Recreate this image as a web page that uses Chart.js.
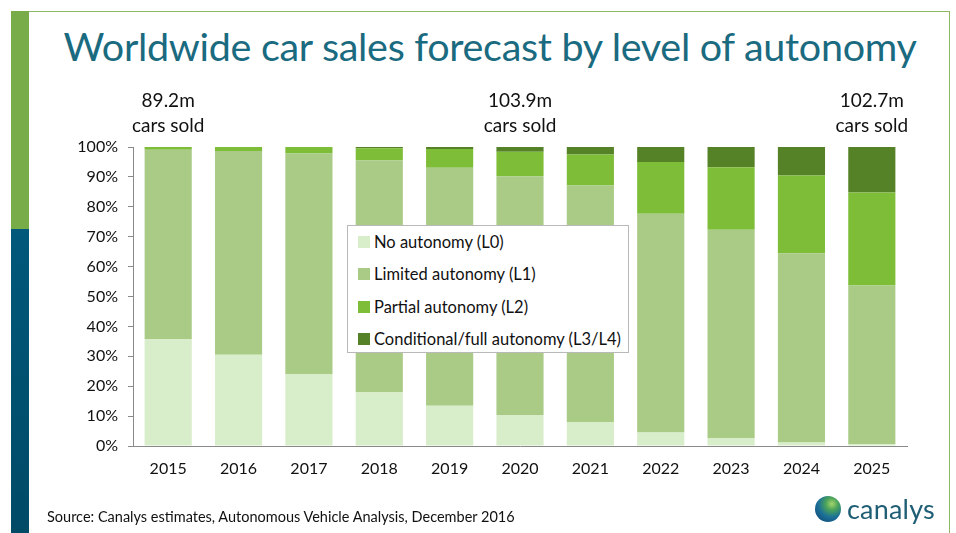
<!DOCTYPE html>
<html>
<head>
<meta charset="utf-8">
<script src="https://cdn.jsdelivr.net/npm/chart.js@4.4.1/dist/chart.umd.min.js"></script>
<style>
  html, body { margin: 0; padding: 0; background: #fff; }
  body { width: 956px; height: 533px; position: relative; overflow: hidden; font-family: Lato, "Open Sans", sans-serif; }
  #frameTop { position: absolute; left: 11px; top: 11px; width: 939px; height: 1px; background: #8fb866; }
  #frameRight { position: absolute; left: 949px; top: 11px; width: 1px; height: 522px; background: #8fb866; }
  #stripeGreen { position: absolute; left: 11px; top: 11px; width: 18px; height: 218px; background: #77ac48; }
  #stripeBlue { position: absolute; left: 11px; top: 229px; width: 18px; height: 304px; background: linear-gradient(#00587a, #004a66); }
  #title { position: absolute; left: 30px; width: 920px; top: 22px; text-align: center; color: #1a6a80; font-size: 39.5px; letter-spacing: -0.3px; white-space: nowrap; }
  #chartWrap { position: absolute; left: 0; top: 0; width: 956px; height: 533px; }
  #legend { position: absolute; left: 347px; top: 225px; width: 282px; height: 128px; background: #fff; border: 1px solid #b9b9b9; box-sizing: border-box; padding: 0 0 0 10px; }
  .li { height: 32.3px; display: flex; align-items: center; font-size: 16.5px; color: #111; white-space: nowrap; }
  .li:first-child { margin-top: 0px; }
  .sw { width: 12px; height: 12px; margin-right: 4px; flex: none; }
  #source { position: absolute; left: 47px; top: 508px; font-size: 14.5px; color: #111; white-space: nowrap; }
  #logo { position: absolute; left: 815px; top: 492px; display: flex; align-items: center; }
  #globe { width: 26px; height: 26px; border-radius: 50%; background: radial-gradient(circle at 65% 30%, #a6d46a 0%, #4aa35a 25%, #1b6f98 55%, #0b3f6a 100%); margin-right: 6px; }
  #logoText { font-size: 27px; color: #1f5e74; letter-spacing: 0.2px; }
</style>
</head>
<body>
<div id="frameTop"></div>
<div id="frameRight"></div>
<div id="stripeGreen"></div>
<div id="stripeBlue"></div>
<div id="title">Worldwide car sales forecast by level of autonomy</div>
<div id="chartWrap"><canvas id="c" width="956" height="533"></canvas></div>
<div id="legend"></div>
<div id="source">Source: Canalys estimates, Autonomous Vehicle Analysis, December 2016</div>
<div id="logo"><div id="globe"></div><div id="logoText">canalys</div></div>
<script>
const years = ["2015","2016","2017","2018","2019","2020","2021","2022","2023","2024","2025"];
const noAutonomyL0      = [35.7, 30.5, 24.1, 18.0, 13.5, 10.4, 8.0, 4.5, 2.7, 1.2, 0.7];
const limitedL1         = [63.4, 68.2, 73.7, 77.6, 79.6, 79.8, 79.1, 73.2, 69.6, 63.3, 53.0];
const partialL2         = [0.9, 1.3, 2.2, 4.0, 6.2, 8.2, 10.4, 17.3, 20.9, 26.0, 31.1];
const conditionalL3L4   = [0.0, 0.0, 0.0, 0.4, 0.7, 1.6, 2.5, 5.0, 6.8, 9.5, 15.2];
const seriesLabels = ["No autonomy (L0)", "Limited autonomy (L1)", "Partial autonomy (L2)", "Conditional/full autonomy (L3/L4)"];
const seriesColors = ["#d8edc9", "#a9cb86", "#7ebd38", "#558227"];
const yTicks = [0,10,20,30,40,50,60,70,80,90,100];
const salesNotes = [
  { year: "2015", lines: ["89.2m", "cars sold"] },
  { year: "2020", lines: ["103.9m", "cars sold"] },
  { year: "2025", lines: ["102.7m", "cars sold"] }
];

const FONT = 'Lato, "Open Sans", sans-serif';

const notesPlugin = {
  id: 'salesNotes',
  afterDraw(chart) {
    const ctx = chart.ctx;
    const xs = chart.scales.x;
    ctx.save();
    ctx.fillStyle = '#111';
    ctx.font = '19px ' + FONT;
    ctx.textAlign = 'center';
    ctx.textBaseline = 'middle';
    salesNotes.forEach(n => {
      const x = xs.getPixelForValue(years.indexOf(n.year));
      ctx.fillText(n.lines[0], x, 101);
      ctx.fillText(n.lines[1], x, 126);
    });
    ctx.restore();
  }
};

const chart = new Chart(document.getElementById('c'), {
  type: 'bar',
  data: {
    labels: years,
    datasets: [noAutonomyL0, limitedL1, partialL2, conditionalL3L4].map((d, i) => ({
      label: seriesLabels[i],
      data: d,
      backgroundColor: seriesColors[i],
      borderWidth: 0,
      barPercentage: 0.67,
      categoryPercentage: 1.0
    }))
  },
  options: {
    responsive: false,
    animation: false,
    devicePixelRatio: 1,
    layout: { padding: { left: 60, right: 49, top: 147, bottom: 52 } },
    plugins: { legend: { display: false }, tooltip: { enabled: false } },
    scales: {
      x: {
        stacked: true,
        grid: { display: true, drawOnChartArea: false, drawTicks: false },
        border: { color: '#8a8a8a', width: 1 },
        ticks: { color: '#111', font: { family: FONT, size: 16 }, padding: 13, maxRotation: 0 },
        afterFit(s) { s.height = 35; }
      },
      y: {
        stacked: true,
        min: 0, max: 100,
        afterBuildTicks(s) { s.ticks = yTicks.map(v => ({ value: v })); },
        grid: { display: true, drawOnChartArea: false, drawTicks: true, tickLength: 5, color: '#8a8a8a' },
        border: { color: '#8a8a8a', width: 1 },
        ticks: { color: '#111', font: { family: FONT, size: 16 }, padding: 10, callback: v => v + '%' },
        afterFit(s) { s.width = 73; }
      }
    }
  },
  plugins: [notesPlugin]
});

const legend = document.getElementById('legend');
chart.data.datasets.forEach(ds => {
  const row = document.createElement('div');
  row.className = 'li';
  const sw = document.createElement('span');
  sw.className = 'sw';
  sw.style.background = ds.backgroundColor;
  const t = document.createElement('span');
  t.textContent = ds.label;
  row.appendChild(sw); row.appendChild(t);
  legend.appendChild(row);
});
</script>
</body>
</html>
